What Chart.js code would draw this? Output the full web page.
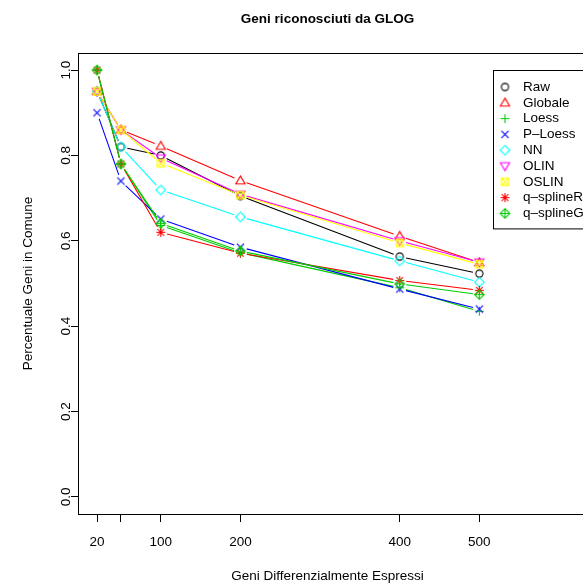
<!DOCTYPE html>
<html>
<head>
<meta charset="utf-8">
<script src="https://cdn.jsdelivr.net/npm/chart.js@4"></script>
<style>
  html, body { margin: 0; padding: 0; background: #fff; overflow: hidden; }
  #wrap { width: 583px; height: 586px; }
</style>
</head>
<body>
<div id="wrap"><canvas id="glog" width="583" height="586"></canvas></div>
<script>
// number of differentially expressed genes
const geneCounts = [20, 50, 100, 200, 400, 500];
const xTickValues = [20, 50, 100, 200, 400, 500];
const yTickValues = [0, 0.2, 0.4, 0.6, 0.8, 1.0];

// fraction of genes in common, one array per normalisation
const raw       = [0.95, 0.82, 0.800, 0.705, 0.563, 0.523];
const globale   = [0.95, 0.86, 0.822, 0.741, 0.611, 0.549];
const loess     = [1.00, 0.78, 0.636, 0.572, 0.490, 0.435];
const pLoess    = [0.90, 0.74, 0.651, 0.585, 0.487, 0.440];
const nn        = [0.95, 0.82, 0.719, 0.656, 0.553, 0.503];
const olin      = [0.95, 0.86, 0.794, 0.709, 0.600, 0.550];
const oslin     = [0.95, 0.86, 0.782, 0.707, 0.595, 0.545];
const qSplineR  = [1.00, 0.78, 0.620, 0.571, 0.507, 0.484];
const qSplineG  = [1.00, 0.78, 0.641, 0.576, 0.499, 0.474];

const seriesNames = ["Raw", "Globale", "Loess", "P\u2013Loess", "NN", "OLIN", "OSLIN", "q\u2013splineR", "q\u2013splineG"];
const seriesValues = [raw, globale, loess, pLoess, nn, olin, oslin, qSplineR, qSplineG];

const FONT = "'Liberation Sans', Arial, Helvetica, sans-serif";
const colors = ["#000000", "#ff0000", "#00cd00", "#0000ff", "#00ffff", "#ff00ff", "#ffff00", "#ff0000", "#00cd00"];
const symbols = ["circle", "triUp", "plus", "cross", "diamond", "triDown", "squareX", "asterisk", "diamondPlus"];

// plotting symbols drawn on small canvases, used as pointStyle
function makeSymbol(kind, color) {
    const c = document.createElement("canvas");
    c.width = 15; c.height = 15;
    const g = c.getContext("2d");
    const m = 7.5;
    g.strokeStyle = color;
    g.lineWidth = 1.1;
    g.beginPath();
    const line = (x1, y1, x2, y2) => { g.moveTo(m + x1, m + y1); g.lineTo(m + x2, m + y2); };
    const diamond = r => { g.moveTo(m, m - r); g.lineTo(m + r, m); g.lineTo(m, m + r); g.lineTo(m - r, m); g.closePath(); };
    switch (kind) {
        case "circle": g.arc(m, m, 3.6, 0, Math.PI * 2); break;
        case "triUp": g.moveTo(m, m - 4.6); g.lineTo(m + 4.6, m + 3.2); g.lineTo(m - 4.6, m + 3.2); g.closePath(); break;
        case "triDown": g.moveTo(m, m + 4.6); g.lineTo(m + 4.6, m - 3.2); g.lineTo(m - 4.6, m - 3.2); g.closePath(); break;
        case "plus": line(-4.5, 0, 4.5, 0); line(0, -4.5, 0, 4.5); break;
        case "cross": line(-3.6, -3.6, 3.6, 3.6); line(-3.6, 3.6, 3.6, -3.6); break;
        case "diamond": diamond(4.8); break;
        case "squareX": g.rect(m - 3.6, m - 3.6, 7.2, 7.2); line(-3.6, -3.6, 3.6, 3.6); line(-3.6, 3.6, 3.6, -3.6); break;
        case "asterisk": line(-4.5, 0, 4.5, 0); line(0, -4.5, 0, 4.5); line(-3.3, -3.3, 3.3, 3.3); line(-3.3, 3.3, 3.3, -3.3); break;
        case "diamondPlus": diamond(4.8); line(-4.8, 0, 4.8, 0); line(0, -4.8, 0, 4.8); break;
    }
    g.stroke();
    return c;
}

const datasets = seriesNames.map((name, i) => ({
    label: name,
    data: geneCounts.map((x, j) => ({ x: x, y: seriesValues[i][j] })),
    borderColor: colors[i],
    backgroundColor: colors[i],
    pointStyle: makeSymbol(symbols[i], colors[i]),
    showLine: false,
    order: -i
}));

// lines with a gap around each symbol, frame, y labels, title and legend
const plotDecor = {
    id: "plotDecor",
    beforeDatasetDraw(chart, args) {
        const ctx = chart.ctx;
        const area = chart.chartArea;
        const pts = args.meta.data;
        const gap = 6.5;
        ctx.save();
        ctx.beginPath();
        ctx.rect(area.left, area.top, area.right - area.left, area.bottom - area.top);
        ctx.clip();
        ctx.strokeStyle = chart.data.datasets[args.index].borderColor;
        ctx.lineWidth = 1.1;
        ctx.beginPath();
        for (let i = 0; i < pts.length - 1; i++) {
            const a = pts[i], b = pts[i + 1];
            const dx = b.x - a.x, dy = b.y - a.y;
            const len = Math.hypot(dx, dy);
            if (len <= 2 * gap) continue;
            const ux = dx / len, uy = dy / len;
            ctx.moveTo(a.x + ux * gap, a.y + uy * gap);
            ctx.lineTo(b.x - ux * gap, b.y - uy * gap);
        }
        ctx.stroke();
        ctx.restore();
    },
    afterDraw(chart) {
        const ctx = chart.ctx;
        const area = chart.chartArea;
        const yScale = chart.scales.y;
        ctx.save();

        // plot frame (right side runs past the canvas edge)
        ctx.strokeStyle = "#000";
        ctx.lineWidth = 1;
        ctx.strokeRect(area.left + 0.5, area.top + 0.5, area.right - area.left + 20, area.bottom - area.top);

        // y tick labels, parallel to the axis
        ctx.fillStyle = "#000";
        ctx.font = "13.5px " + FONT;
        ctx.textAlign = "center";
        ctx.textBaseline = "middle";
        yTickValues.forEach(v => {
            ctx.save();
            ctx.translate(66, yScale.getPixelForValue(v));
            ctx.rotate(-Math.PI / 2);
            ctx.fillText(v.toFixed(1), 0, 0);
            ctx.restore();
        });

        // title
        ctx.font = "bold 13.5px " + FONT;
        ctx.fillText("Geni riconosciuti da GLOG", (area.left + area.right) / 2, 19);

        // legend
        const lx = 493, ly = 70, step = 15.8;
        const n = chart.data.datasets.length;
        ctx.fillStyle = "#fff";
        ctx.fillRect(lx, ly, 120, 16 + step * (n - 1) + 16);
        ctx.strokeStyle = "#000";
        ctx.strokeRect(lx + 0.5, ly + 0.5, 120, 16 + step * (n - 1) + 16);
        ctx.font = "13.5px " + FONT;
        ctx.textAlign = "left";
        ctx.fillStyle = "#000";
        chart.data.datasets.forEach((ds, i) => {
            const y = ly + 17 + i * step;
            const img = ds.pointStyle;
            ctx.drawImage(img, 505 - img.width / 2, y - img.height / 2);
            ctx.fillText(ds.label, 523, y);
        });
        ctx.restore();
    }
};

new Chart(document.getElementById("glog"), {
    type: "scatter",
    data: { datasets: datasets },
    plugins: [plotDecor],
    options: {
        responsive: false,
        animation: false,
        layout: { padding: { top: 53, right: 0, left: 0, bottom: 0 } },
        elements: { point: { radius: 5, hoverRadius: 5 } },
        plugins: {
            legend: { display: false },
            title: { display: false },
            tooltip: { enabled: false }
        },
        scales: {
            x: {
                type: "linear",
                min: -3.9,
                max: 622.6,
                afterBuildTicks: s => { s.ticks = xTickValues.map(v => ({ value: v })); },
                afterFit: s => { s.height = 72; },
                border: { display: false },
                grid: { drawOnChartArea: false, tickLength: 8, color: "#000", tickWidth: 1 },
                ticks: {
                    color: "#000",
                    padding: 12,
                    maxRotation: 0,
                    autoSkip: false,
                    font: { family: FONT, size: 13.5 },
                    callback: v => (v === 50 ? "" : String(v))
                },
                title: {
                    display: true,
                    text: "Geni Differenzialmente Espressi",
                    color: "#000",
                    font: { family: FONT, size: 13.5 },
                    padding: { top: 0, bottom: 2 }
                }
            },
            y: {
                type: "linear",
                min: -0.04,
                max: 1.04,
                afterBuildTicks: s => { s.ticks = yTickValues.map(v => ({ value: v })); },
                afterFit: s => { s.width = 78; },
                border: { display: false },
                grid: { drawOnChartArea: false, tickLength: 7, color: "#000", tickWidth: 1 },
                ticks: { display: false },
                title: {
                    display: true,
                    text: "Percentuale Geni in Comune",
                    color: "#000",
                    font: { family: FONT, size: 13.5 },
                    padding: { top: 20, bottom: 0 }
                }
            }
        }
    }
});
</script>
</body>
</html>
